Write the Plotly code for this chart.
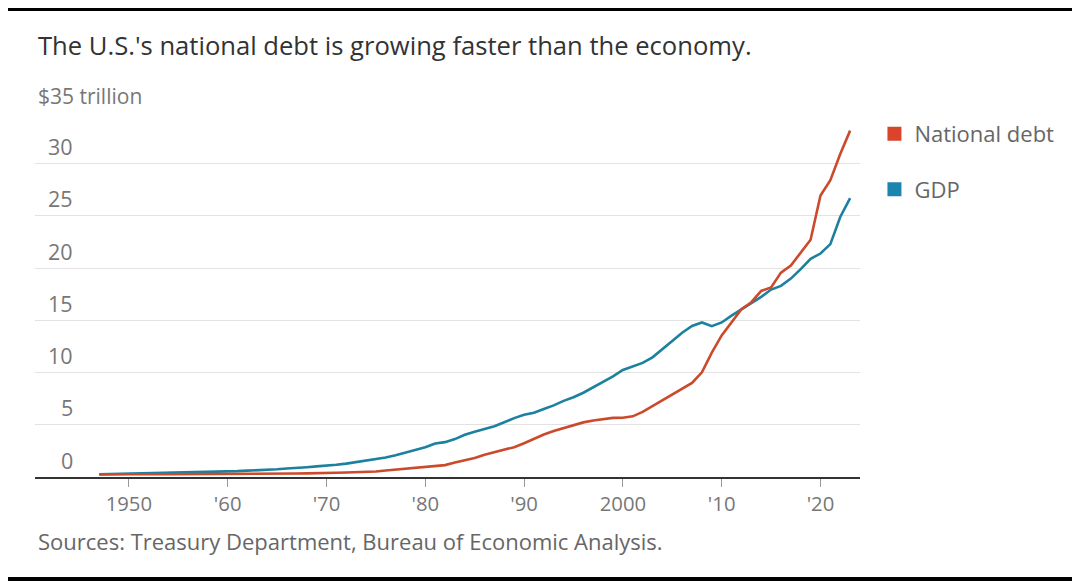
import plotly.graph_objects as go

# DATA (trillions of dollars)
years = list(range(1947, 2024))

national_debt = [
    0.26, 0.25, 0.25, 0.26, 0.26, 0.26, 0.27, 0.27, 0.27, 0.27,
    0.27, 0.28, 0.28, 0.29, 0.29, 0.30, 0.31, 0.31, 0.32, 0.32,
    0.33, 0.35, 0.35, 0.37, 0.40, 0.43, 0.46, 0.48, 0.53, 0.62,
    0.70, 0.77, 0.83, 0.91, 1.00, 1.14, 1.38, 1.57, 1.82, 2.13,
    2.35, 2.60, 2.86, 3.23, 3.67, 4.07, 4.41, 4.69, 4.97, 5.23,
    5.41, 5.53, 5.66, 5.67, 5.81, 6.23, 6.78, 7.38, 7.93, 8.51,
    9.01, 10.03, 11.91, 13.56, 14.79, 16.07, 16.74, 17.82, 18.15, 19.57,
    20.25, 21.52, 22.72, 26.95, 28.43, 30.93, 33.17,
]

gdp = [
    0.25, 0.27, 0.27, 0.30, 0.35, 0.37, 0.39, 0.39, 0.43, 0.45,
    0.47, 0.48, 0.52, 0.54, 0.56, 0.61, 0.64, 0.69, 0.74, 0.82,
    0.86, 0.94, 1.02, 1.07, 1.17, 1.28, 1.43, 1.55, 1.68, 1.87,
    2.08, 2.35, 2.63, 2.86, 3.21, 3.34, 3.63, 4.04, 4.34, 4.58,
    4.86, 5.24, 5.64, 5.96, 6.16, 6.52, 6.86, 7.29, 7.64, 8.07,
    8.58, 9.06, 9.63, 10.25, 10.58, 10.93, 11.46, 12.22, 13.04, 13.82,
    14.47, 14.80, 14.45, 14.80, 15.45, 16.05, 16.60, 17.25, 17.95, 18.30,
    19.00, 19.90, 20.90, 21.40, 22.30, 24.90, 26.70,
]

x_tickvals = [1950, 1960, 1970, 1980, 1990, 2000, 2010, 2020]
x_ticktext = ["1950", "'60", "'70", "'80", "'90", "2000", "'10", "'20"]

y_tickvals = [0, 5, 10, 15, 20, 25, 30]
y_top_label = "$35 trillion"

title = "The U.S.'s national debt is growing faster than the economy."
source = "Sources: Treasury Department, Bureau of Economic Analysis."

DEBT_COLOR = "#cc4a2c"
GDP_COLOR = "#1c819e"
FONT = "'Open Sans', sans-serif"

fig = go.Figure()

# lines (GDP under debt)
fig.add_trace(go.Scatter(x=years, y=gdp, mode="lines", name="GDP",
                         line=dict(color=GDP_COLOR, width=2.6), showlegend=False))
fig.add_trace(go.Scatter(x=years, y=national_debt, mode="lines", name="National debt",
                         line=dict(color=DEBT_COLOR, width=2.6), showlegend=False))

# square legend entries
fig.add_trace(go.Scatter(x=[None], y=[None], mode="markers", name="National debt",
                         legendgroup="a",
                         marker=dict(symbol="square", size=14, color="#d9442b")))
fig.add_trace(go.Scatter(x=[None], y=[None], mode="markers", name="GDP",
                         legendgroup="b",
                         marker=dict(symbol="square", size=14, color="#1a85ad")))

annotations = []
for v in y_tickvals:
    annotations.append(dict(x=0.0485, xref="paper", y=v, yref="y", yshift=17,
                            text=str(v), showarrow=False, xanchor="right",
                            yanchor="middle",
                            font=dict(family=FONT, size=21.5, color="#777")))
annotations.append(dict(x=0.001, xref="paper", y=35, yref="y", yshift=16,
                        text=y_top_label, showarrow=False, xanchor="left",
                        yanchor="middle",
                        font=dict(family=FONT, size=21, color="#777")))
annotations.append(dict(x=0.001, xref="paper", y=1.18, yref="paper",
                        text=title, showarrow=False, xanchor="left", yanchor="middle",
                        font=dict(family=FONT, size=25.6, color="#333")))
annotations.append(dict(x=0.001, xref="paper", y=-0.175, yref="paper",
                        text=source, showarrow=False, xanchor="left", yanchor="middle",
                        font=dict(family=FONT, size=22, color="#666")))

# black bands top and bottom of the screenshot
shapes = [
    dict(type="rect", xref="paper", yref="paper", x0=-0.2, x1=1.4, y0=1.273, y1=1.5,
         fillcolor="black", line=dict(width=0), layer="above"),
    dict(type="rect", xref="paper", yref="paper", x0=-0.2, x1=1.4, y0=-0.5, y1=-0.273,
         fillcolor="black", line=dict(width=0), layer="above"),
]

# page body has an 8px margin, so the margins are trimmed by 8px
fig.update_layout(
    width=1080, height=581,
    margin=dict(l=27, r=228, t=103, b=112),
    paper_bgcolor="white", plot_bgcolor="white",
    font=dict(family=FONT, color="#666"),
    annotations=annotations,
    shapes=shapes,
    legend=dict(x=1.0175, y=0.995, xanchor="left", yanchor="top",
                font=dict(family=FONT, size=22, color="#666"),
                tracegroupgap=24, itemwidth=30, bgcolor="rgba(0,0,0,0)"),
    xaxis=dict(range=[1940.5, 2024], tickvals=x_tickvals, ticktext=x_ticktext,
               showgrid=False, zeroline=False,
               showline=True, linecolor="#333", linewidth=2,
               ticks="outside", ticklen=8, tickwidth=1, tickcolor="#999",
               tickfont=dict(family=FONT, size=20.3, color="#777")),
    yaxis=dict(range=[0, 35.05], tickvals=y_tickvals + [35], showticklabels=False,
               showgrid=True, gridcolor="#e2e2e2", gridwidth=1,
               zeroline=False, showline=False),
)

fig.write_html("out.html")
